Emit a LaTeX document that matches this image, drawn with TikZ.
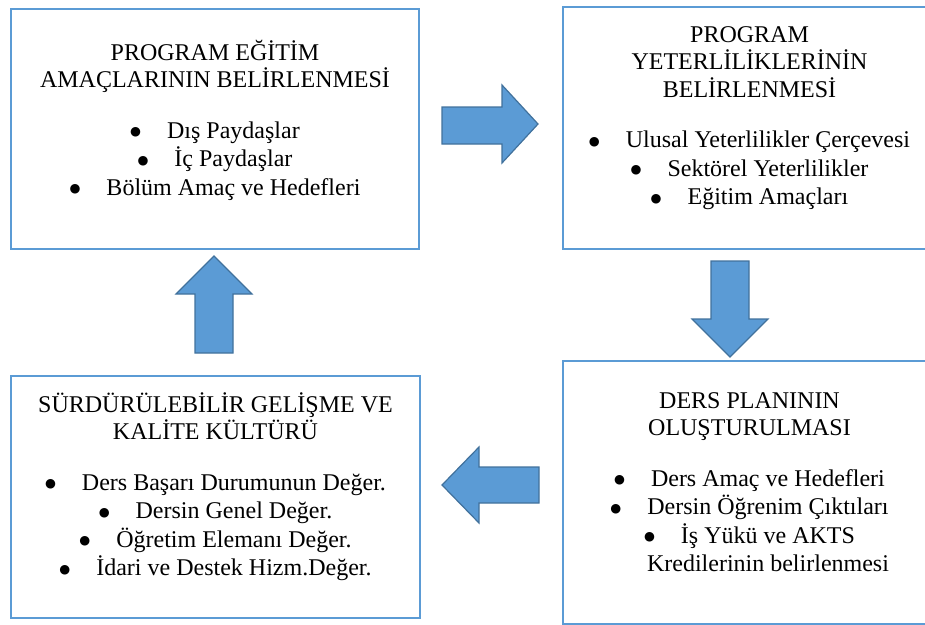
\documentclass[tikz,border=0pt]{standalone}
\usepackage{fontspec}
\setmainfont{LiberationSerif}[Extension=.ttf, UprightFont=*-Regular, BoldFont=*-Bold, ItalicFont=*-Italic, BoldItalicFont=*-BoldItalic]
\newfontfamily\isaret{DejaVu Sans}
\usepackage{xcolor}
\usetikzlibrary{positioning}

\definecolor{kutuMavi}{RGB}{91,155,213}
\definecolor{okKenar}{RGB}{65,113,156}

\newcommand{\madde}[1]{\raisebox{2.5pt}{\isaret\fontsize{12.5}{0}\selectfont ●}\hspace{26pt}#1}

\begin{document}
\begin{tikzpicture}[
        x=1pt, y=-1pt,
        font=\rmfamily\fontsize{24}{28.5}\selectfont,
        kutu/.style={
            draw=kutuMavi,
            fill=white,
            line width=2pt,
            anchor=north west,
            inner sep=0pt
        },
        metin/.style={
            align=center,
            inner sep=0pt
        },
        blokok/.style={
            fill=kutuMavi,
            draw=okKenar,
            line width=1.2pt,
            line join=miter
        }
    ]

        \clip (0,0) rectangle (925,624);

        % kutular
        \node[kutu, minimum width=408pt, minimum height=240pt] (amac) at (10,8) {};
        \node[kutu, minimum width=373pt, minimum height=242pt] (yeterlilik) at (562,6) {};
        \node[kutu, minimum width=373pt, minimum height=263pt] (plan) at (562,360) {};
        \node[kutu, minimum width=409pt, minimum height=242pt] (kalite) at (10,375) {};

        % metinler
        \node[metin, below=28pt of amac.north] (amacMetin) {\rule{0pt}{24pt}PROGRAM EĞİTİM\\[-1pt]
            AMAÇLARININ BELİRLENMESİ\\[22pt]
            \madde{Dış Paydaşlar}\\
            \madde{İç Paydaşlar}\\
            \madde{Bölüm Amaç ve Hedefleri}};
        \node[metin, below=12pt of yeterlilik.north] (yeterlilikMetin) {\rule{0pt}{24pt}PROGRAM\\[-1pt]
            YETERLİLİKLERİNİN\\[-1pt]
            BELİRLENMESİ\\[22pt]
            \madde{Ulusal Yeterlilikler Çerçevesi}\\
            \madde{Sektörel Yeterlilikler}\\
            \madde{Eğitim Amaçları}};
        \node[metin, below=24pt of plan.north] (planMetin) {\rule{0pt}{24pt}DERS PLANININ\\[-1pt]
            OLUŞTURULMASI\\[22pt]
            \madde{Ders Amaç ve Hedefleri}\\
            \madde{Dersin Öğrenim Çıktıları}\\
            \madde{İş Yükü ve AKTS}\\
            \hspace*{37pt}Kredilerinin belirlenmesi};
        \node[metin, below=13pt of kalite.north] (kaliteMetin) {\rule{0pt}{24pt}SÜRDÜRÜLEBİLİR GELİŞME VE\\[-1pt]
            KALİTE KÜLTÜRÜ\\[22pt]
            \madde{Ders Başarı Durumunun Değer.}\\
            \madde{Dersin Genel Değer.}\\
            \madde{Öğretim Elemanı Değer.}\\
            \madde{İdari ve Destek Hizm.Değer.}};

        % blok oklar
        \draw[blokok] (442,107) -- (502,107) -- (502,85) -- (538,124) -- (502,163) -- (502,144) -- (442,144) -- cycle;
        \draw[blokok] (711,261) -- (749,261) -- (749,319) -- (768,319) -- (730,357) -- (692,319) -- (711,319) -- cycle;
        \draw[blokok] (539,467) -- (479,467) -- (479,447) -- (442,485) -- (479,523) -- (479,503) -- (539,503) -- cycle;
        \draw[blokok] (195,353) -- (195,294) -- (176,294) -- (214,256) -- (252,294) -- (233,294) -- (233,353) -- cycle;

    \end{tikzpicture}
\end{document}
